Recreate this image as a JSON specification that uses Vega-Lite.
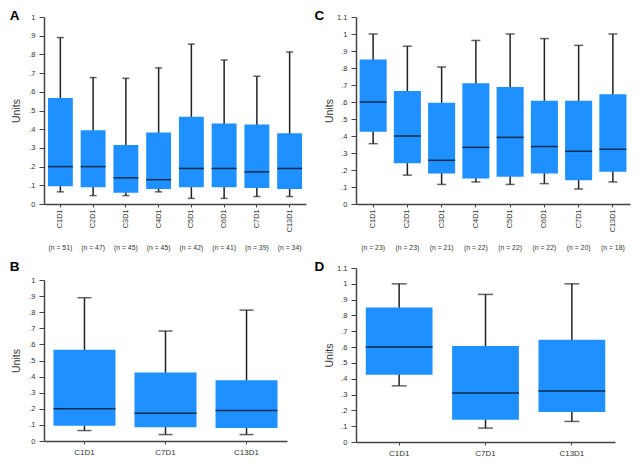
{
  "$schema": "https://vega.github.io/schema/vega-lite/v6.json",
  "padding": {"left": 9, "top": 8, "right": 4, "bottom": 2},
  "background": "white",
  "datasets": {
    "early": [
      {"cycle": "C1D1", "key": "C1D1 (n = 51)", "low": 0.065, "q1": 0.095, "median": 0.2, "q3": 0.567, "high": 0.89},
      {"cycle": "C2D1", "key": "C2D1 (n = 47)", "low": 0.045, "q1": 0.09, "median": 0.2, "q3": 0.395, "high": 0.676},
      {"cycle": "C3D1", "key": "C3D1 (n = 45)", "low": 0.045, "q1": 0.06, "median": 0.14, "q3": 0.315, "high": 0.672},
      {"cycle": "C4D1", "key": "C4D1 (n = 45)", "low": 0.065, "q1": 0.08, "median": 0.13, "q3": 0.383, "high": 0.728},
      {"cycle": "C5D1", "key": "C5D1 (n = 42)", "low": 0.03, "q1": 0.09, "median": 0.19, "q3": 0.466, "high": 0.855},
      {"cycle": "C6D1", "key": "C6D1 (n = 41)", "low": 0.03, "q1": 0.09, "median": 0.19, "q3": 0.43, "high": 0.77},
      {"cycle": "C7D1", "key": "C7D1 (n = 39)", "low": 0.04, "q1": 0.085, "median": 0.172, "q3": 0.425, "high": 0.683},
      {"cycle": "C13D1", "key": "C13D1 (n = 34)", "low": 0.04, "q1": 0.08, "median": 0.19, "q3": 0.378, "high": 0.813}
    ],
    "late": [
      {"cycle": "C1D1", "key": "C1D1 (n = 23)", "low": 0.355, "q1": 0.425, "median": 0.6, "q3": 0.85, "high": 1.0},
      {"cycle": "C2D1", "key": "C2D1 (n = 23)", "low": 0.17, "q1": 0.24, "median": 0.4, "q3": 0.665, "high": 0.928},
      {"cycle": "C3D1", "key": "C3D1 (n = 21)", "low": 0.115, "q1": 0.18, "median": 0.257, "q3": 0.596, "high": 0.806},
      {"cycle": "C4D1", "key": "C4D1 (n = 22)", "low": 0.13, "q1": 0.15, "median": 0.333, "q3": 0.71, "high": 0.962},
      {"cycle": "C5D1", "key": "C5D1 (n = 22)", "low": 0.115, "q1": 0.16, "median": 0.392, "q3": 0.688, "high": 1.0},
      {"cycle": "C6D1", "key": "C6D1 (n = 22)", "low": 0.12, "q1": 0.18, "median": 0.338, "q3": 0.607, "high": 0.973},
      {"cycle": "C7D1", "key": "C7D1 (n = 20)", "low": 0.088, "q1": 0.14, "median": 0.31, "q3": 0.607, "high": 0.933},
      {"cycle": "C13D1", "key": "C13D1 (n = 18)", "low": 0.13, "q1": 0.19, "median": 0.322, "q3": 0.646, "high": 1.0}
    ]
  },
  "hconcat": [
    {
      "vconcat": [
        {
          "width": 262, "height": 187,
          "data": {"name": "early"},
          "title": {"text": "A", "anchor": "start", "frame": "bounds", "offset": -9, "dx": -2},
          "layer": [
            {"mark": {"type": "rule", "color": "#222", "strokeWidth": 1.5},
             "encoding": {
               "x": {"field": "key", "type": "nominal", "sort": null, "scale": {"paddingInner": 0.24, "paddingOuter": 0.12},
                     "axis": {"title": null, "labelAngle": -90, "labelFontSize": 7.3, "labelPadding": 2, "labelExpr": "substring(datum.label, 0, indexof(datum.label, ' '))"}},
               "y": {"field": "low", "type": "quantitative", "title": "Units", "scale": {"domain": [0, 1]},
                     "axis": {"values": [0, 0.1, 0.2, 0.3, 0.4, 0.5, 0.6, 0.7, 0.8, 0.9, 1.0], "labelOverlap": false, "titlePadding": 7}},
               "y2": {"field": "high"}}},
            {"mark": {"type": "bar", "color": "#1E90FF"},
             "encoding": {
               "x": {"field": "key", "type": "nominal", "sort": null,
                     "axis": {"title": null, "orient": "bottom", "offset": 38, "domain": false, "ticks": false, "labelAngle": 0, "labelFontSize": 6.8, "labelPadding": 2,
                              "labelExpr": "substring(datum.label, indexof(datum.label, ' ') + 1)"}},
               "y": {"field": "q1", "type": "quantitative", "title": "Units", "axis": {"values": [0, 0.1, 0.2, 0.3, 0.4, 0.5, 0.6, 0.7, 0.8, 0.9, 1.0], "labelOverlap": false, "titlePadding": 7}},
               "y2": {"field": "q3"}}},
            {"mark": {"type": "tick", "color": "black", "size": 25, "thickness": 1.5},
             "encoding": {"x": {"field": "key", "type": "nominal", "sort": null, "axis": null},
                          "y": {"field": "median", "type": "quantitative", "title": "Units", "axis": {"values": [0, 0.1, 0.2, 0.3, 0.4, 0.5, 0.6, 0.7, 0.8, 0.9, 1.0], "labelOverlap": false, "titlePadding": 7}}}},
            {"mark": {"type": "tick", "color": "#222", "size": 7, "thickness": 1.5},
             "encoding": {"x": {"field": "key", "type": "nominal", "sort": null, "axis": null},
                          "y": {"field": "low", "type": "quantitative", "title": "Units", "axis": {"values": [0, 0.1, 0.2, 0.3, 0.4, 0.5, 0.6, 0.7, 0.8, 0.9, 1.0], "labelOverlap": false, "titlePadding": 7}}}},
            {"mark": {"type": "tick", "color": "#222", "size": 7, "thickness": 1.5},
             "encoding": {"x": {"field": "key", "type": "nominal", "sort": null, "axis": null},
                          "y": {"field": "high", "type": "quantitative", "title": "Units", "axis": {"values": [0, 0.1, 0.2, 0.3, 0.4, 0.5, 0.6, 0.7, 0.8, 0.9, 1.0], "labelOverlap": false, "titlePadding": 7}}}}
          ],
          "resolve": {"axis": {"x": "independent"}}
        },
        {
          "width": 243, "height": 161,
          "data": {"name": "early"},
          "transform": [{"filter": {"field": "cycle", "oneOf": ["C1D1", "C7D1", "C13D1"]}}],
          "title": {"text": "B", "anchor": "start", "frame": "bounds", "offset": 2.5, "dx": -2},
          "encoding": {
            "x": {"field": "cycle", "type": "nominal", "sort": null, "scale": {"paddingInner": 0.235, "paddingOuter": 0.117},
                  "axis": {"title": null, "labelAngle": 0}}
          },
          "layer": [
            {"mark": {"type": "rule", "color": "#222", "strokeWidth": 1.5},
             "encoding": {
               "y": {"field": "low", "type": "quantitative", "title": "Units", "scale": {"domain": [0, 1]},
                     "axis": {"values": [0, 0.1, 0.2, 0.3, 0.4, 0.5, 0.6, 0.7, 0.8, 0.9, 1.0], "labelOverlap": false, "titlePadding": 7}},
               "y2": {"field": "high"}}},
            {"mark": {"type": "bar", "color": "#1E90FF"},
             "encoding": {"y": {"field": "q1", "type": "quantitative", "title": "Units", "axis": {"values": [0, 0.1, 0.2, 0.3, 0.4, 0.5, 0.6, 0.7, 0.8, 0.9, 1.0], "labelOverlap": false, "titlePadding": 7}}, "y2": {"field": "q3"}}},
            {"mark": {"type": "tick", "color": "black", "size": 62, "thickness": 1.5},
             "encoding": {"y": {"field": "median", "type": "quantitative", "title": "Units", "axis": {"values": [0, 0.1, 0.2, 0.3, 0.4, 0.5, 0.6, 0.7, 0.8, 0.9, 1.0], "labelOverlap": false, "titlePadding": 7}}}},
            {"mark": {"type": "tick", "color": "#222", "size": 14, "thickness": 1.5},
             "encoding": {"y": {"field": "low", "type": "quantitative", "title": "Units", "axis": {"values": [0, 0.1, 0.2, 0.3, 0.4, 0.5, 0.6, 0.7, 0.8, 0.9, 1.0], "labelOverlap": false, "titlePadding": 7}}}},
            {"mark": {"type": "tick", "color": "#222", "size": 14, "thickness": 1.5},
             "encoding": {"y": {"field": "high", "type": "quantitative", "title": "Units", "axis": {"values": [0, 0.1, 0.2, 0.3, 0.4, 0.5, 0.6, 0.7, 0.8, 0.9, 1.0], "labelOverlap": false, "titlePadding": 7}}}}
          ]
        }
      ],
      "spacing": 9
    },
    {
      "vconcat": [
        {
          "width": 274, "height": 187,
          "data": {"name": "late"},
          "title": {"text": "C", "anchor": "start", "frame": "bounds", "offset": -9, "dx": -10},
          "layer": [
            {"mark": {"type": "rule", "color": "#222", "strokeWidth": 1.5},
             "encoding": {
               "x": {"field": "key", "type": "nominal", "sort": null, "scale": {"paddingInner": 0.21, "paddingOuter": 0.105},
                     "axis": {"title": null, "labelAngle": -90, "labelFontSize": 7.3, "labelPadding": 2, "labelExpr": "substring(datum.label, 0, indexof(datum.label, ' '))"}},
               "y": {"field": "low", "type": "quantitative", "title": "Units", "scale": {"domain": [0, 1.1]},
                     "axis": {"values": [0, 0.1, 0.2, 0.3, 0.4, 0.5, 0.6, 0.7, 0.8, 0.9, 1.0, 1.1], "labelOverlap": false, "titlePadding": 2}},
               "y2": {"field": "high"}}},
            {"mark": {"type": "bar", "color": "#1E90FF"},
             "encoding": {
               "x": {"field": "key", "type": "nominal", "sort": null,
                     "axis": {"title": null, "orient": "bottom", "offset": 38, "domain": false, "ticks": false, "labelAngle": 0, "labelFontSize": 6.8, "labelPadding": 2,
                              "labelExpr": "substring(datum.label, indexof(datum.label, ' ') + 1)"}},
               "y": {"field": "q1", "type": "quantitative", "title": "Units", "axis": {"values": [0, 0.1, 0.2, 0.3, 0.4, 0.5, 0.6, 0.7, 0.8, 0.9, 1.0, 1.1], "labelOverlap": false, "titlePadding": 2}},
               "y2": {"field": "q3"}}},
            {"mark": {"type": "tick", "color": "black", "size": 27, "thickness": 1.5},
             "encoding": {"x": {"field": "key", "type": "nominal", "sort": null, "axis": null},
                          "y": {"field": "median", "type": "quantitative", "title": "Units", "axis": {"values": [0, 0.1, 0.2, 0.3, 0.4, 0.5, 0.6, 0.7, 0.8, 0.9, 1.0, 1.1], "labelOverlap": false, "titlePadding": 2}}}},
            {"mark": {"type": "tick", "color": "#222", "size": 9, "thickness": 1.5},
             "encoding": {"x": {"field": "key", "type": "nominal", "sort": null, "axis": null},
                          "y": {"field": "low", "type": "quantitative", "title": "Units", "axis": {"values": [0, 0.1, 0.2, 0.3, 0.4, 0.5, 0.6, 0.7, 0.8, 0.9, 1.0, 1.1], "labelOverlap": false, "titlePadding": 2}}}},
            {"mark": {"type": "tick", "color": "#222", "size": 9, "thickness": 1.5},
             "encoding": {"x": {"field": "key", "type": "nominal", "sort": null, "axis": null},
                          "y": {"field": "high", "type": "quantitative", "title": "Units", "axis": {"values": [0, 0.1, 0.2, 0.3, 0.4, 0.5, 0.6, 0.7, 0.8, 0.9, 1.0, 1.1], "labelOverlap": false, "titlePadding": 2}}}}
          ],
          "resolve": {"axis": {"x": "independent"}}
        },
        {
          "width": 259, "height": 174,
          "data": {"name": "late"},
          "transform": [{"filter": {"field": "cycle", "oneOf": ["C1D1", "C7D1", "C13D1"]}}],
          "title": {"text": "D", "anchor": "start", "frame": "bounds", "offset": -9.5, "dx": -10},
          "encoding": {
            "x": {"field": "cycle", "type": "nominal", "sort": null, "scale": {"paddingInner": 0.227, "paddingOuter": 0.113},
                  "axis": {"title": null, "labelAngle": 0}}
          },
          "layer": [
            {"mark": {"type": "rule", "color": "#222", "strokeWidth": 1.5},
             "encoding": {
               "y": {"field": "low", "type": "quantitative", "title": "Units", "scale": {"domain": [0, 1.1]},
                     "axis": {"values": [0, 0.1, 0.2, 0.3, 0.4, 0.5, 0.6, 0.7, 0.8, 0.9, 1.0, 1.1], "labelOverlap": false, "titlePadding": 2}},
               "y2": {"field": "high"}}},
            {"mark": {"type": "bar", "color": "#1E90FF"},
             "encoding": {"y": {"field": "q1", "type": "quantitative", "title": "Units", "axis": {"values": [0, 0.1, 0.2, 0.3, 0.4, 0.5, 0.6, 0.7, 0.8, 0.9, 1.0, 1.1], "labelOverlap": false, "titlePadding": 2}}, "y2": {"field": "q3"}}},
            {"mark": {"type": "tick", "color": "black", "size": 67, "thickness": 1.5},
             "encoding": {"y": {"field": "median", "type": "quantitative", "title": "Units", "axis": {"values": [0, 0.1, 0.2, 0.3, 0.4, 0.5, 0.6, 0.7, 0.8, 0.9, 1.0, 1.1], "labelOverlap": false, "titlePadding": 2}}}},
            {"mark": {"type": "tick", "color": "#222", "size": 15, "thickness": 1.5},
             "encoding": {"y": {"field": "low", "type": "quantitative", "title": "Units", "axis": {"values": [0, 0.1, 0.2, 0.3, 0.4, 0.5, 0.6, 0.7, 0.8, 0.9, 1.0, 1.1], "labelOverlap": false, "titlePadding": 2}}}},
            {"mark": {"type": "tick", "color": "#222", "size": 15, "thickness": 1.5},
             "encoding": {"y": {"field": "high", "type": "quantitative", "title": "Units", "axis": {"values": [0, 0.1, 0.2, 0.3, 0.4, 0.5, 0.6, 0.7, 0.8, 0.9, 1.0, 1.1], "labelOverlap": false, "titlePadding": 2}}}}
          ]
        }
      ],
      "spacing": 9
    }
  ],
  "spacing": 8,
  "config": {
    "font": "Liberation Sans",
    "view": {"stroke": null},
    "title": {"font": "Liberation Sans", "fontSize": 13.5, "fontWeight": "bold", "color": "#000"},
    "axis": {
      "grid": false,
      "labelFont": "Liberation Sans", "labelFontSize": 7.5, "labelColor": "#333",
      "domainColor": "#444", "domainWidth": 1.5, "tickColor": "#444",
      "titleFont": "Liberation Sans", "titleFontSize": 10.5, "titleFontWeight": "normal", "titleColor": "#333"
    },
    "axisX": {"tickSize": 3, "labelPadding": 4, "labelFontSize": 8},
    "axisY": {
      "tickSize": 5, "labelPadding": 4,
      "labelExpr": "datum.value == 0 ? '0' : abs(datum.value - 1) < 0.001 ? '1' : datum.value < 1 ? substring(format(datum.value, '.1f'), 1) : format(datum.value, '.1f')"
    }
  }
}
